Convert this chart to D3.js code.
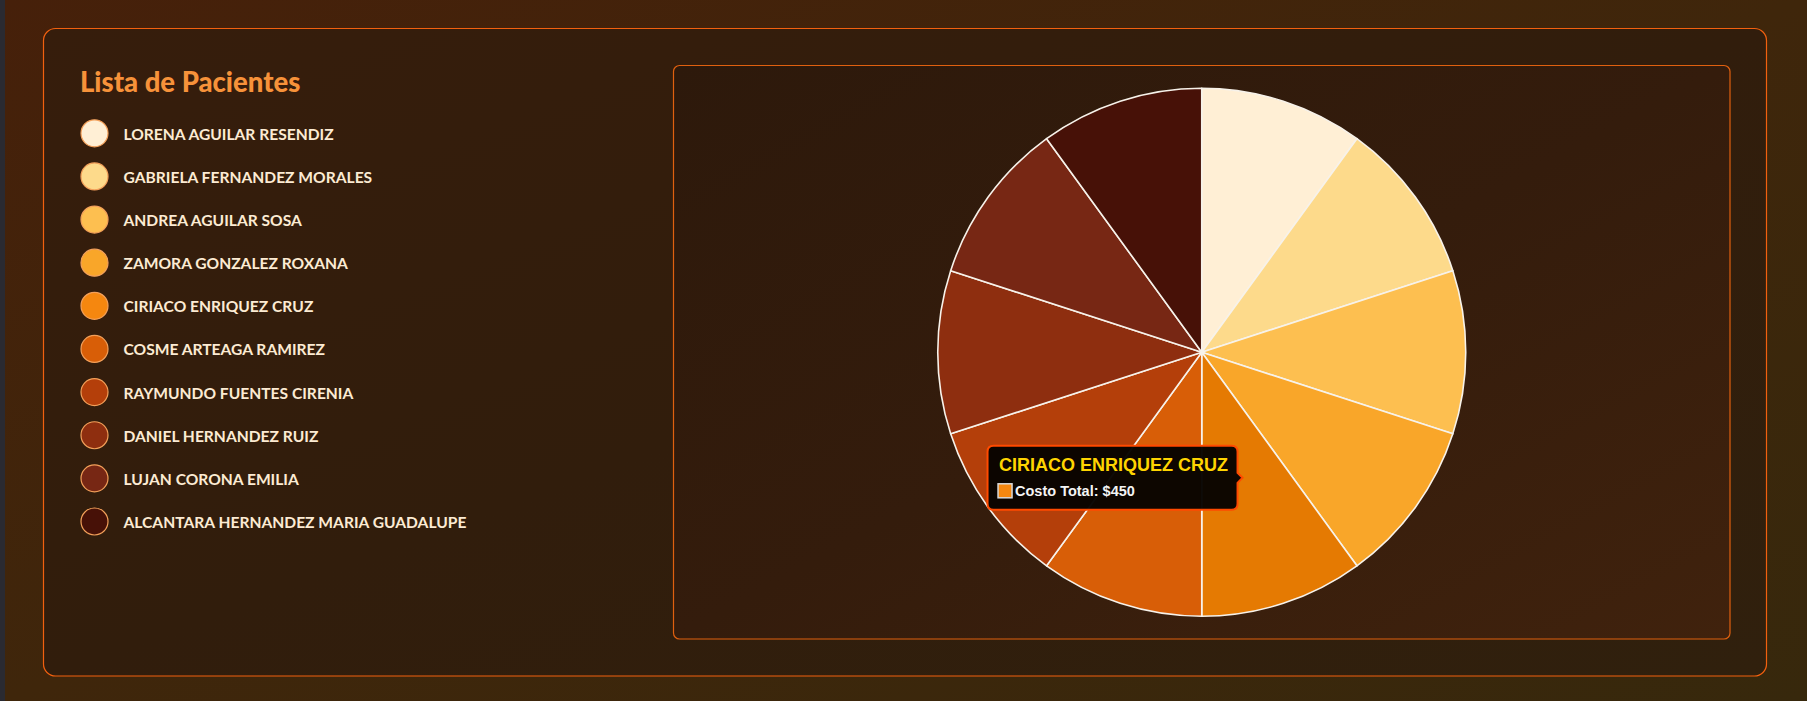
<!DOCTYPE html>
<html>
<head>
<meta charset="utf-8">
<script src="https://cdn.jsdelivr.net/npm/d3@7"></script>
<style>
  html, body { margin: 0; padding: 0; width: 1807px; height: 701px; overflow: hidden; background: #3d230b; }
  svg { display: block; }
</style>
</head>
<body>
<svg id="chart" width="1807" height="701"></svg>
<script>
// ---- data ----
const patients = [
  "LORENA AGUILAR RESENDIZ",
  "GABRIELA FERNANDEZ MORALES",
  "ANDREA AGUILAR SOSA",
  "ZAMORA GONZALEZ ROXANA",
  "CIRIACO ENRIQUEZ CRUZ",
  "COSME ARTEAGA RAMIREZ",
  "RAYMUNDO FUENTES CIRENIA",
  "DANIEL HERNANDEZ RUIZ",
  "LUJAN CORONA EMILIA",
  "ALCANTARA HERNANDEZ MARIA GUADALUPE"
];
const costs = [450, 450, 450, 450, 450, 450, 450, 450, 450, 450];
const colors = ["#FFEFD5", "#FDDA8B", "#FDBF50", "#F9A629", "#F5870F", "#D85E07", "#B43F0A", "#8E2E0F", "#772714", "#471107"];
const hoverIndex = 4;
const hoverColor = "#E57A02";
const titleText = "Lista de Pacientes";
const tooltipLabel = "Costo Total: $";

const svg = d3.select("#chart");
const defs = svg.append("defs");

// background gradients
const bg = defs.append("linearGradient").attr("id", "bg").attr("x1", "0").attr("y1", "0").attr("x2", "1").attr("y2", "1");
bg.append("stop").attr("offset", "0").attr("stop-color", "#46200A");
bg.append("stop").attr("offset", "0.5").attr("stop-color", "#3F260B");
bg.append("stop").attr("offset", "1").attr("stop-color", "#37280C");

const cardG = defs.append("linearGradient").attr("id", "card").attr("x1", "0").attr("y1", "0").attr("x2", "1").attr("y2", "1");
cardG.append("stop").attr("offset", "0").attr("stop-color", "#361D0C");
cardG.append("stop").attr("offset", "0.5").attr("stop-color", "#311D0C");
cardG.append("stop").attr("offset", "1").attr("stop-color", "#30200D");

const boxG = defs.append("linearGradient").attr("id", "box").attr("x1", "0").attr("y1", "0").attr("x2", "1").attr("y2", "1");
boxG.append("stop").attr("offset", "0").attr("stop-color", "#2D190B");
boxG.append("stop").attr("offset", "0.5").attr("stop-color", "#341C0C");
boxG.append("stop").attr("offset", "1").attr("stop-color", "#40220D");

svg.append("rect").attr("x", 0).attr("y", 0).attr("width", 1807).attr("height", 701).attr("fill", "url(#bg)");
svg.append("rect").attr("x", 0).attr("y", 0).attr("width", 5).attr("height", 701).attr("fill", "#2A2A31");

// card
svg.append("rect").attr("x", 43.5).attr("y", 28.5).attr("width", 1723).attr("height", 647.5)
  .attr("rx", 12).attr("fill", "url(#card)").attr("stroke", "#F2600F").attr("stroke-width", 1.2);

// chart box
const box = {x: 673.5, y: 65.5, w: 1056.5, h: 573.5};
svg.append("rect").attr("x", box.x).attr("y", box.y).attr("width", box.w).attr("height", box.h)
  .attr("rx", 6).attr("fill", "url(#box)").attr("stroke", "#E0600F").attr("stroke-width", 1.2);

// legend
const legend = svg.append("g");
legend.append("text").attr("x", 80).attr("y", 92)
  .attr("font-family", "Lato, 'Open Sans', sans-serif").attr("font-weight", 900)
  .attr("font-size", 27.5).attr("fill", "#F7923A").text(titleText);

const rowY = d3.scalePoint().domain(d3.range(patients.length)).range([133.3, 521.5]);
const items = legend.selectAll("g.item").data(patients).join("g")
  .attr("class", "item").attr("transform", (d, i) => `translate(0,${rowY(i)})`);
items.append("circle").attr("cx", 94.5).attr("cy", 0).attr("r", 13.5)
  .attr("fill", (d, i) => colors[i]).attr("stroke", "#F3A05A").attr("stroke-width", 1.2);
items.append("text").attr("x", 123.5).attr("y", 6.5)
  .attr("font-family", "Lato, 'Open Sans', sans-serif").attr("font-weight", 700)
  .attr("font-size", 15.6).attr("fill", "#FCEBD3").text(d => d);

// pie
const cx = box.x + box.w / 2, cy = box.y + box.h / 2;
const radius = 264;
const pie = d3.pie().sort(null).value(d => d);
const arcs = pie(costs);
const arc = d3.arc().innerRadius(0).outerRadius(radius);
const pg = svg.append("g").attr("transform", `translate(${cx},${cy})`);
pg.selectAll("path").data(arcs).join("path")
  .attr("d", arc)
  .attr("fill", (d, i) => i === hoverIndex ? hoverColor : colors[i])
  .attr("stroke", "#F7F2EA").attr("stroke-width", 1.6).attr("stroke-linejoin", "round");

// tooltip anchored at centroid of hovered slice
const [ax, ay] = arc.centroid(arcs[hoverIndex]);
const tipX = cx + ax, tipY = cy + ay;
const tw = 250, th = 64, caret = 5;
const tx = tipX - caret - tw, ty = tipY - th / 2;
const tg = svg.append("g").attr("transform", `translate(${tx},${ty})`);
const r = 6;
const path = `M${r},0 H${tw - r} Q${tw},0 ${tw},${r} V${th/2 - caret} L${tw + caret},${th/2} L${tw},${th/2 + caret} V${th - r} Q${tw},${th} ${tw - r},${th} H${r} Q0,${th} 0,${th - r} V${r} Q0,0 ${r},0 Z`;
tg.append("path").attr("d", path).attr("fill", "rgba(6,3,0,0.97)").attr("stroke", "#FF4A00").attr("stroke-width", 2);
tg.append("text").attr("x", 11.5).attr("y", 25.5)
  .attr("font-family", "'Liberation Sans', Arial, sans-serif").attr("font-weight", 700)
  .attr("font-size", 18).attr("fill", "#FFD400").text(patients[hoverIndex]);
tg.append("rect").attr("x", 10.5).attr("y", 38).attr("width", 14).attr("height", 14)
  .attr("fill", colors[hoverIndex]).attr("stroke", "#D8D8D8").attr("stroke-width", 1.5);
tg.append("text").attr("x", 27.5).attr("y", 50)
  .attr("font-family", "'Liberation Sans', Arial, sans-serif").attr("font-weight", 700)
  .attr("font-size", 14.5).attr("fill", "#F4F4F4").text(tooltipLabel + costs[hoverIndex]);
</script>
</body>
</html>
